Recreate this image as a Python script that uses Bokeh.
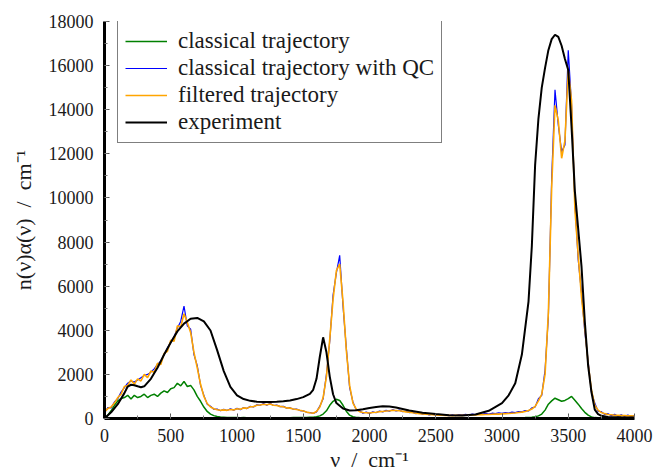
from bokeh.plotting import figure
from bokeh.models import Legend, LegendItem, SingleIntervalTicker, Range1d
from bokeh.embed import file_html
from bokeh.resources import INLINE

# wavenumber grid (cm^-1) for simulated spectra
nu = list(range(0, 4001, 25))

classical = [
    0, 150, 350, 600, 800, 900, 950, 1050,
    880, 1050, 950, 1000, 1100, 950, 1050, 1100,
    1000, 1150, 1250, 1180, 1350, 1400, 1600, 1480,
    1680, 1450, 1500, 1300, 1000, 780, 520, 320,
    200, 130, 90, 70, 60, 50, 45, 40,
    40, 35, 40, 35, 35, 30, 35, 30,
    30, 30, 30, 30, 30, 30, 30, 35,
    35, 40, 40, 45, 45, 50, 55, 60,
    80, 120, 200, 350, 600, 780, 870, 820,
    600, 330, 150, 80, 50, 40, 35, 30,
    30, 30, 30, 30, 30, 30, 30, 30,
    30, 30, 30, 30, 30, 30, 30, 30,
    30, 30, 30, 30, 30, 30, 30, 30,
    30, 30, 30, 30, 30, 30, 30, 30,
    30, 30, 30, 30, 30, 30, 30, 30,
    30, 30, 30, 30, 30, 30, 35, 40,
    50, 60, 80, 120, 200, 380, 650, 800,
    920, 850, 780, 820, 900, 1000, 830, 650,
    450, 280, 150, 70, 40, 30, 25, 20,
    20, 20, 20, 20, 20, 20, 20, 20,
    20,
]

classical_qc = [
    250, 500, 480, 750, 900, 1200, 1400, 1600,
    1700, 1650, 1750, 1850, 1950, 2000, 2100, 2250,
    2450, 2600, 2900, 3200, 3450, 3700, 4100, 4400,
    5100, 4200, 4050, 2900, 2400, 1500, 1050, 650,
    560, 420, 430, 350, 420, 360, 440, 380,
    460, 400, 500, 450, 550, 520, 620, 600,
    680, 600, 690, 590, 610, 540, 550, 470,
    490, 420, 430, 360, 350, 280, 270, 230,
    300, 560, 900, 2000, 3500, 5600, 6600, 7400,
    5100, 3200, 1400, 750, 380, 350, 240, 290,
    230, 300, 260, 340, 300, 370, 330, 400,
    340, 380, 310, 330, 270, 290, 220, 250,
    190, 220, 160, 200, 150, 180, 140, 170,
    130, 170, 130, 180, 150, 190, 160, 200,
    180, 220, 190, 230, 200, 240, 220, 260,
    230, 270, 250, 290, 270, 310, 300, 360,
    340, 480, 520, 900, 1050, 2200, 4600, 10900,
    14900, 13300, 12100, 12400, 16700, 14200, 9800, 7200,
    5700, 3900, 2600, 1200, 700, 330, 310, 180,
    220, 130, 190, 100, 170, 90, 160, 80,
    140,
]

filtered = [
    300, 450, 520, 700, 950, 1100, 1450, 1500,
    1750, 1550, 1800, 1700, 2000, 1850, 2150, 2100,
    2500, 2450, 2950, 3050, 3550, 3500, 4200, 4150,
    4750, 4350, 3900, 3000, 2300, 1550, 1000, 680,
    520, 440, 400, 370, 390, 370, 410, 390,
    440, 420, 480, 460, 530, 540, 600, 610,
    650, 620, 660, 600, 590, 550, 530, 480,
    470, 430, 410, 370, 340, 290, 260, 240,
    320, 520, 950, 1900, 3600, 5400, 6700, 7000,
    5300, 3100, 1500, 700, 420, 310, 270, 260,
    250, 270, 280, 310, 320, 340, 350, 370,
    360, 350, 330, 300, 290, 260, 240, 220,
    210, 190, 180, 170, 160, 150, 150, 140,
    140, 130, 140, 140, 140, 150, 150, 160,
    160, 170, 170, 180, 180, 190, 200, 200,
    210, 220, 230, 240, 250, 270, 290, 320,
    360, 430, 550, 800, 1100, 2000, 4800, 10500,
    14200, 13500, 11800, 12600, 15800, 14400, 9500, 7400,
    5500, 4100, 2500, 1300, 600, 380, 270, 220,
    180, 170, 150, 140, 130, 130, 120, 120,
    110,
]

exp_nu = [0, 50, 100, 150, 175, 200, 225, 250, 275, 300,
          350, 400, 450, 500, 550, 600, 650, 700, 750, 800,
          850, 900, 950, 1000, 1050, 1100, 1150, 1200, 1250, 1300,
          1350, 1400, 1450, 1500, 1550, 1575, 1600, 1625, 1650, 1675,
          1700, 1725, 1750, 1800, 1850, 1900, 1950, 2000, 2050, 2100,
          2150, 2200, 2250, 2300, 2400, 2500, 2600, 2700, 2800, 2900,
          3000, 3050, 3100, 3150, 3200, 3225, 3250, 3275, 3300, 3325,
          3350, 3375, 3400, 3425, 3450, 3475, 3500, 3525, 3550, 3575,
          3600, 3625, 3650, 3675, 3700, 3725, 3750, 3800, 3900, 4000]
experiment = [0, 280, 650, 1150, 1450, 1530, 1510, 1460, 1420, 1460,
              1800, 2300, 2900, 3450, 3950, 4300, 4520, 4560, 4400, 3990,
              3100, 2150, 1430, 1050, 880, 800, 760, 750, 750, 760,
              780, 820, 880, 970, 1120, 1300, 1800, 2800, 3680, 3000,
              1900, 1100, 700, 450, 360, 370, 420, 480, 520, 550,
              540, 500, 430, 360, 260, 200, 150, 140, 180, 350,
              700, 1050, 1600, 2900, 5300, 7800, 11500, 13600, 15000, 15900,
              16700, 17200, 17400, 17300, 16900, 16300, 15800, 13200, 10300, 8600,
              6900, 4400, 2400, 1200, 400, 200, 120, 70, 55, 50]

labels = ["classical trajectory", "classical trajectory with QC",
          "filtered trajectory", "experiment"]

FONT = "Liberation Serif"

p = figure(width=654, height=475, output_backend="svg", toolbar_location=None,
           x_range=Range1d(0, 4000), y_range=Range1d(0, 18000),
           min_border_left=104, min_border_right=20, min_border_top=21,
           min_border_bottom=57)

r_cl = p.line(nu, classical, line_color="#008000", line_width=1.5)
r_qc = p.line(nu, classical_qc, line_color="#0000ff", line_width=1.2)
r_fi = p.line(nu, filtered, line_color="#ffa500", line_width=1.6)
r_ex = p.line(exp_nu, experiment, line_color="black", line_width=2)

p.xaxis.ticker = SingleIntervalTicker(interval=500, num_minor_ticks=2)
p.yaxis.ticker = SingleIntervalTicker(interval=2000, num_minor_ticks=2)

p.xaxis.axis_label = "ν\u2002/\u2002cm⁻¹"
p.yaxis.axis_label = "n(ν)α(ν)\u2002/\u2002cm⁻¹"

for ax in (p.xaxis, p.yaxis):
    ax.axis_line_width = 3
    ax.axis_line_color = "black"
    ax.major_tick_in = 5
    ax.major_tick_out = 0
    ax.minor_tick_in = 3
    ax.minor_tick_out = 0
    ax.major_tick_line_color = "#555555"
    ax.minor_tick_line_color = "#777777"
    ax.major_label_text_font = FONT
    ax.major_label_text_font_size = "18px"
    ax.major_label_text_color = "#1a1a1a"
    ax.axis_label_text_font = FONT
    ax.axis_label_text_font_size = "22px"
    ax.axis_label_text_font_style = "normal"
    ax.axis_label_text_color = "#1a1a1a"

p.xaxis.major_label_standoff = 10
p.xaxis.axis_label_standoff = 2
p.yaxis.major_label_standoff = 11
p.yaxis.axis_label_standoff = 10
p.xgrid.visible = False
p.ygrid.visible = False
p.outline_line_color = None

legend = Legend(items=[LegendItem(label=labels[0], renderers=[r_cl]),
                       LegendItem(label=labels[1], renderers=[r_qc]),
                       LegendItem(label=labels[2], renderers=[r_fi]),
                       LegendItem(label=labels[3], renderers=[r_ex])],
                location=(13, 275))
legend.label_text_font = FONT
legend.label_text_font_size = "23px"
legend.label_text_color = "#1a1a1a"
legend.glyph_width = 42
legend.glyph_height = 24
legend.label_height = 24
legend.label_standoff = 11
legend.spacing = 1
legend.padding = 7
legend.margin = 0
legend.border_line_color = "black"
legend.border_line_width = 1.5
legend.background_fill_alpha = 1.0
p.add_layout(legend)

open("out.html", "w").write(file_html(p, INLINE))
